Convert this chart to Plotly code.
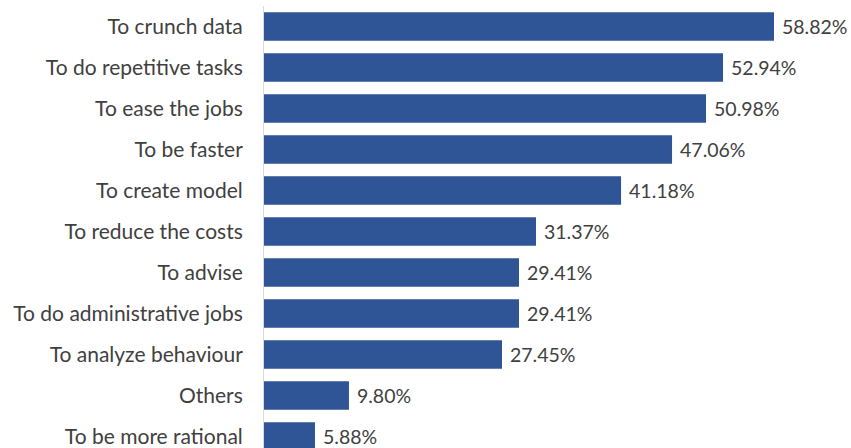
import plotly.graph_objects as go

categories = ["To crunch data", "To do repetitive tasks", "To ease the jobs", "To be faster",
              "To create model", "To reduce the costs", "To advise", "To do administrative jobs",
              "To analyze behaviour", "Others", "To be more rational"]
values = [58.82, 52.94, 50.98, 47.06, 41.18, 31.37, 29.41, 29.41, 27.45, 9.80, 5.88]

fig = go.Figure(go.Bar(
    x=values, y=categories, orientation="h",
    marker=dict(color="#2f5597", line=dict(width=0)),
    texttemplate="\u00a0%{x:.2f}%", textposition="outside",
    textfont=dict(family="Lato", size=19.5, color="#404040"),
    cliponaxis=False, width=0.7,
))
fig.update_layout(
    width=851, height=448,
    margin=dict(l=264, r=0, t=6, b=0),
    paper_bgcolor="white", plot_bgcolor="white",
    showlegend=False,
    font=dict(family="Lato", size=19.5, color="#404040"),
)
fig.update_xaxes(range=[0, 67.7], visible=False, showgrid=False, zeroline=False)
fig.update_yaxes(range=[10.28, -0.5], showgrid=False, zeroline=False,
                 showline=True, linecolor="#d9d9d9", linewidth=1,
                 ticks="", ticklabelstandoff=16,
                 tickfont=dict(family="Lato", size=21, color="#404040"))
fig.write_html("out.html")
